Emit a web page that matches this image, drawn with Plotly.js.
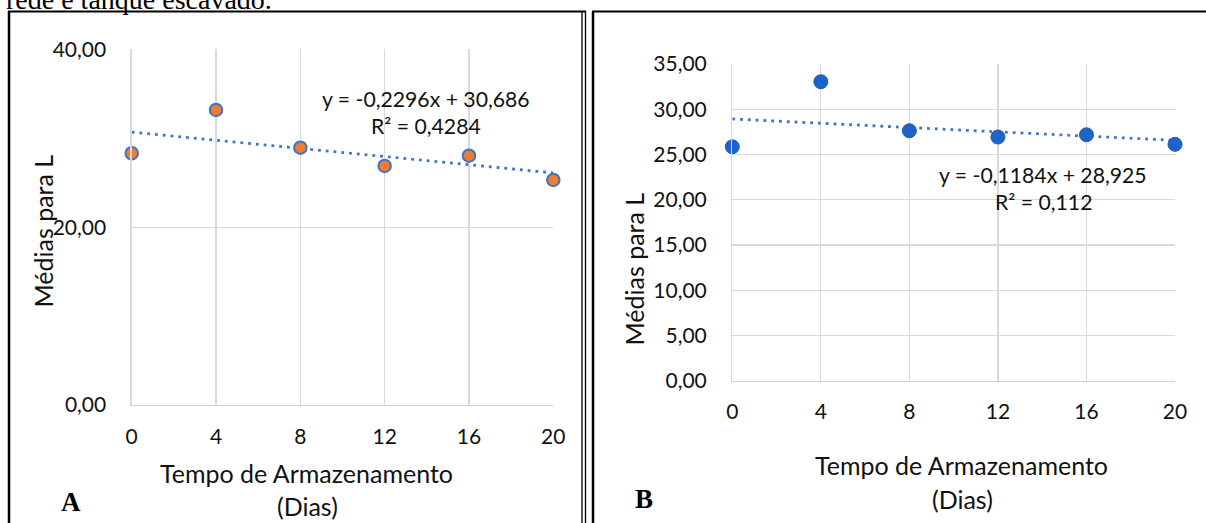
<!DOCTYPE html>
<html><head><meta charset="utf-8">
<script src="https://cdn.plot.ly/plotly-3.0.1.min.js"></script>
<style>html,body{margin:0;padding:0;background:#fff;}#chart{width:1206px;height:523px;}</style>
</head><body><div id="chart"></div>
<script>
// ---- data ----
const days = [0, 4, 8, 12, 16, 20];
const mediasA = [28.31, 33.18, 28.94, 26.88, 28.04, 25.31];
const mediasB = [25.85, 33.04, 27.62, 26.93, 27.18, 26.12];
const trendX = [0, 20];
const trendSlope = [-0.2296, -0.1184];
const trendIntercept = [30.686, 28.925];
const eqLabels = ['y = -0,2296x + 30,686', 'y = -0,1184x + 28,925'];
const r2Labels = ['R² = 0,4284', 'R² = 0,112'];
const panelLabels = ['A', 'B'];
const xTitle = 'Tempo de Armazenamento';
const xTitle2 = '(Dias)';
const yTitle = 'Médias para L';
const topText = 'rede e tanque escavado.';

// ---- helpers ----
const W = 1206, H = 523;
const px = v => v / W;
const py = v => 1 - v / H;
const FONT = 'Lato, "Open Sans", sans-serif';
const SERIF = '"Liberation Serif", "DejaVu Serif", serif';
const trendY = i => trendX.map(x => trendSlope[i] * x + trendIntercept[i]);

const dotted = {color: '#4472C4', width: 2.8, dash: '2.8px,5px'};

const traces = [
  {x: trendX, y: trendY(0), xaxis: 'x', yaxis: 'y', mode: 'lines', line: dotted, hoverinfo: 'skip', cliponaxis: false},
  {x: days, y: mediasA, xaxis: 'x', yaxis: 'y', mode: 'markers', cliponaxis: false,
   marker: {size: 12.5, color: '#ED7D31', line: {color: '#4472C4', width: 2}}},
  {x: trendX, y: trendY(1), xaxis: 'x2', yaxis: 'y2', mode: 'lines', line: dotted, hoverinfo: 'skip', cliponaxis: false},
  {x: days, y: mediasB, xaxis: 'x2', yaxis: 'y2', mode: 'markers', cliponaxis: false,
   marker: {size: 14, color: '#1E64C8', line: {color: '#1A5BBA', width: 1}}}
];

const tickFont = {family: FONT, size: 21, color: '#111'};
const baseX = {range: [0, 20], tickvals: days, ticks: '', showgrid: true, gridcolor: '#D9D9D9', gridwidth: 1.3,
  zeroline: false, showline: true, linecolor: '#D0D0D0', linewidth: 1.3, tickfont: tickFont, ticklabelstandoff: 12, fixedrange: true};
const baseY = {ticks: '', showgrid: true, gridcolor: '#D9D9D9', gridwidth: 1.3, zeroline: false, showline: true,
  linecolor: '#D9D9D9', linewidth: 1.3,
  tickformat: '.2f', tickfont: tickFont, ticklabelstandoff: 20, fixedrange: true};

const ann = [];
function txt(text, x, y, size, opts) {
  ann.push(Object.assign({text: text, x: px(x), y: py(y), xref: 'paper', yref: 'paper', showarrow: false,
    xanchor: 'center', yanchor: 'middle', font: {family: FONT, size: size, color: '#111'}}, opts || {}));
}
// equations
txt(eqLabels[0], 426, 98.5, 21.2);
txt(r2Labels[0], 426, 126, 21.2);
txt(eqLabels[1], 1043, 175, 21.2);
txt(r2Labels[1], 1043, 201.5, 21.2);
// axis titles
txt(xTitle, 306, 472.5, 25);
txt(xTitle2, 307, 506, 25);
txt(xTitle, 961.5, 465, 25);
txt(xTitle2, 962, 498.5, 25);
txt(yTitle, 42, 231.5, 25, {textangle: -90});
txt(yTitle, 633, 269.5, 25, {textangle: -90});
// panel letters
txt(panelLabels[0], 71, 501.5, 27, {font: {family: SERIF, size: 27, color: '#000', weight: 'bold'}});
txt(panelLabels[1], 644, 499, 27, {font: {family: SERIF, size: 27, color: '#000', weight: 'bold'}});
// clipped caption line at top
txt(topText, 274, 17, 28, {xanchor: 'right', yanchor: 'bottom', font: {family: SERIF, size: 28, color: '#000'}});

const line = (x0, y0, x1, y1, w) => ({type: 'line', xref: 'paper', yref: 'paper',
  x0: px(x0), y0: py(y0), x1: px(x1), y1: py(y1), line: {color: '#000', width: w}, layer: 'above'});
const shapes = [
  line(9, 11.5, 9, 530, 2.5),
  line(8, 11.5, 586, 11.5, 2),
  line(582, 11.5, 582, 530, 1.3),
  line(585.5, 11.5, 585.5, 530, 1.3),
  line(593, 11.5, 593, 530, 2.5),
  line(592, 11.5, 1210, 11.5, 2)
];

const layout = {
  width: W, height: H, margin: {l: 0, r: 0, t: 0, b: 0}, paper_bgcolor: '#fff', plot_bgcolor: '#fff',
  showlegend: false, separators: ',.',
  xaxis: Object.assign({}, baseX, {domain: [px(131.7), px(553.3)], anchor: 'y'}),
  yaxis: Object.assign({}, baseY, {domain: [py(405), py(49.3)], range: [0, 40], dtick: 20, anchor: 'x'}),
  xaxis2: Object.assign({}, baseX, {domain: [px(732.3), px(1175)], anchor: 'y2'}),
  yaxis2: Object.assign({}, baseY, {domain: [py(380.7), py(64)], range: [0, 35], dtick: 5, anchor: 'x2'}),
  annotations: ann, shapes: shapes
};
Plotly.newPlot('chart', traces, layout, {staticPlot: true, displayModeBar: false});
</script></body></html>
